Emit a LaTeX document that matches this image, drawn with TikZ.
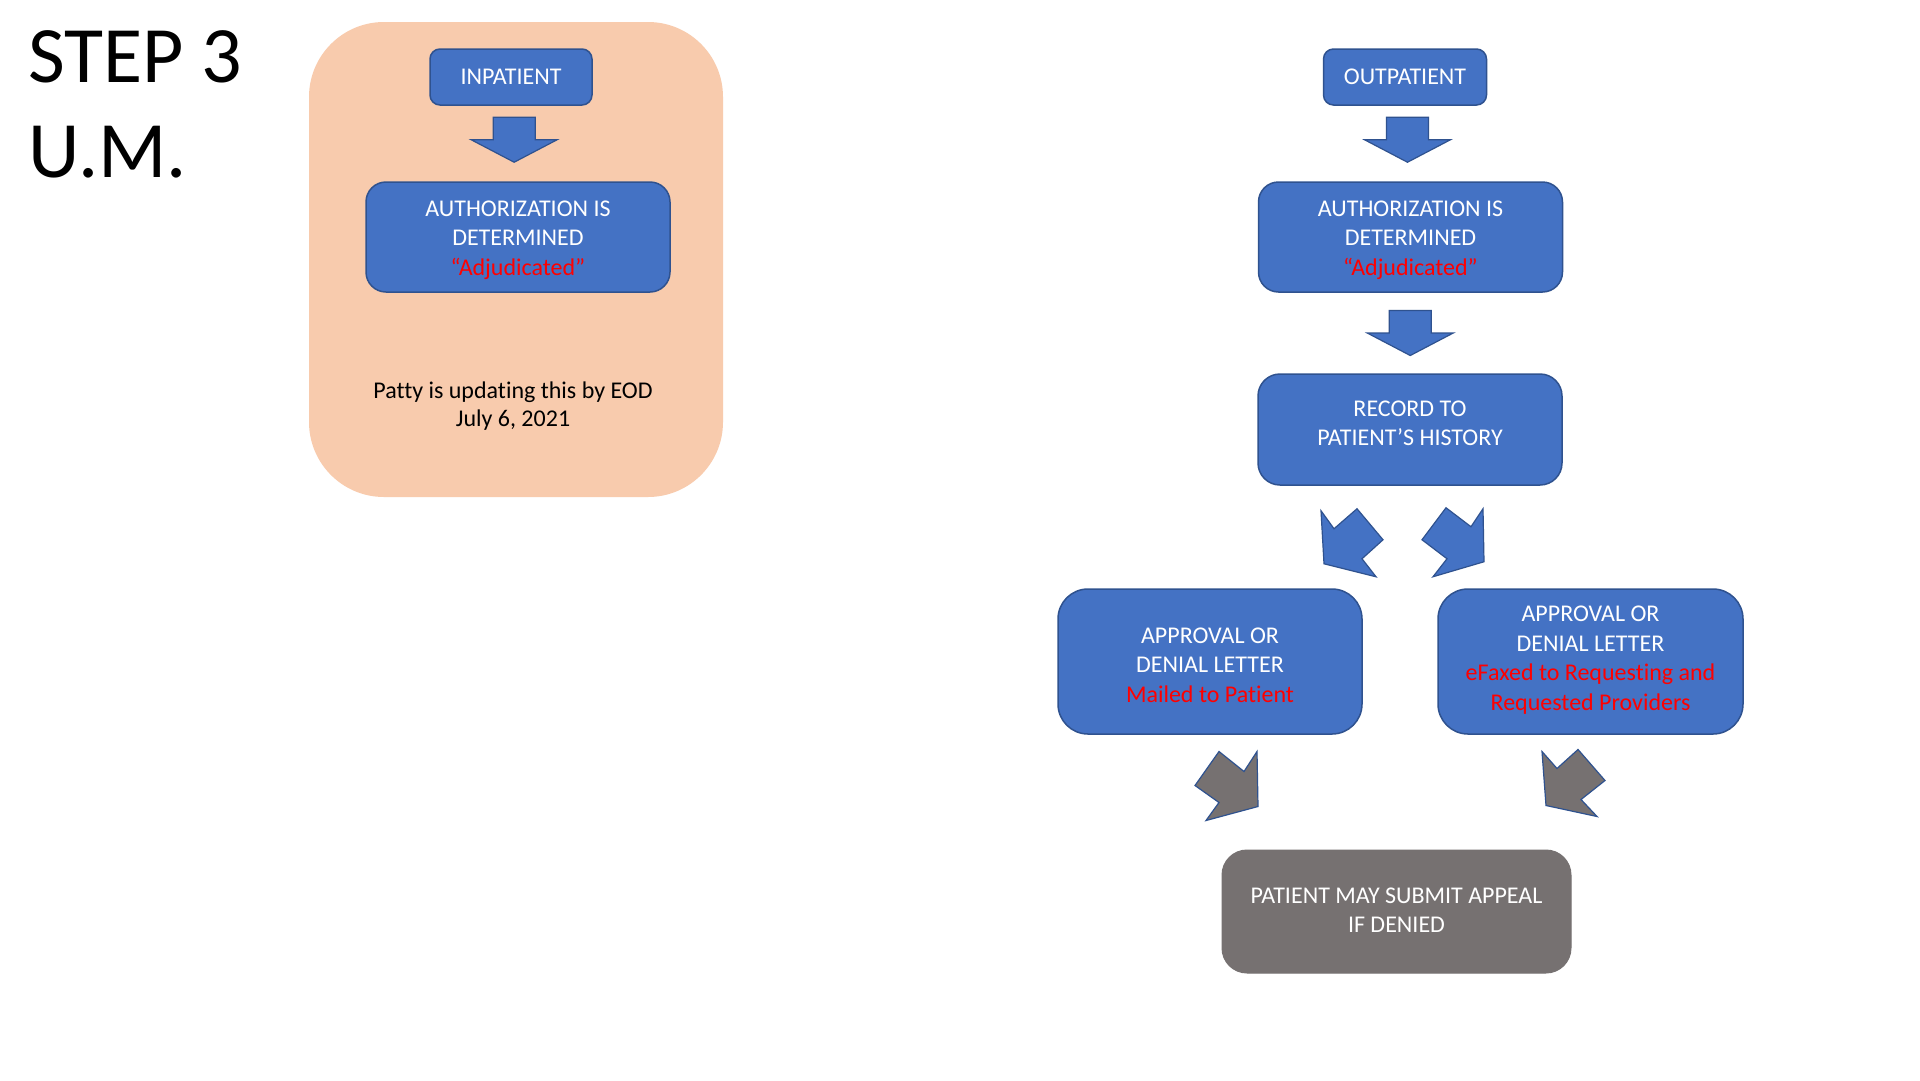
\documentclass[tikz,border=0pt]{standalone}
\usepackage{fontspec}
\setmainfont{Carlito}[Ligatures={TeX,NoCommon}]
\usetikzlibrary{calc}
\definecolor{boxblue}{HTML}{4472C4}
\definecolor{edgeblue}{HTML}{2F528F}
\definecolor{peach}{HTML}{F8CBAD}
\definecolor{slate}{HTML}{767171}
\definecolor{alertred}{HTML}{FF0000}
\tikzset{
  boxtext/.style={text=white, align=center, inner sep=0pt, font=\fontsize{24}{29.5}\selectfont},
  bluebox/.style={draw=edgeblue, line width=1.5pt, fill=boxblue, inner sep=0pt},
  graybox/.style={draw=slate, line width=1pt, fill=slate, inner sep=0pt},
  blockblue/.style={fill=boxblue, draw=edgeblue, line width=1.2pt, line join=miter},
  blockgray/.style={fill=slate, draw=edgeblue, line width=1.2pt, line join=miter},
  downblock/.pic={\draw[blockblue] (-21,-22.5) -- (21,-22.5) -- (21,0) -- (43,0) -- (0,22.5) -- (-43,0) -- (-21,0) -- cycle;}
}
\begin{document}
\begin{tikzpicture}[x=1pt,y=-1pt]
\useasboundingbox (0,0) rectangle (1920,1080);
\fill[white] (0,0) rectangle (1920,1080);

% title
\node[anchor=base west, inner sep=0pt, font=\fontsize{80}{95}\selectfont] (title1) at (28,82) {STEP 3};
\node[anchor=base west, inner sep=0pt, font=\fontsize{80}{95}\selectfont] (title2) at (28,177) {U.M.};

% inpatient panel
\node[fill=peach, rounded corners=75pt, minimum width=414pt, minimum height=475pt, inner sep=0pt] (holder) at (516,259.5) {};
\node[bluebox, rounded corners=10pt, minimum width=162pt, minimum height=56pt] (inpatient) at (511,77) {};
\node[boxtext] (inpatient-t) at (inpatient.center) {INPATIENT};
\node[bluebox, rounded corners=20pt, minimum width=304pt, minimum height=110pt] (inauth) at (518,237) {};
\node[boxtext, yshift=-3pt] (inauth-t) at (inauth.center)
  {AUTHORIZATION IS\\DETERMINED\\\textcolor{alertred}{“Adjudicated”}};
\pic at ($(inpatient.south)!0.45!(inauth.north)$) {downblock};
\node[align=center, inner sep=0pt, font=\fontsize{24}{28.5}\selectfont] (note) at (513,406)
  {Patty is updating this by EOD\\July 6, 2021};

% outpatient flow
\node[bluebox, rounded corners=10pt, minimum width=163pt, minimum height=56pt] (outpatient) at (1405,77) {};
\node[boxtext] (outpatient-t) at (outpatient.center) {OUTPATIENT};
\node[bluebox, rounded corners=20pt, minimum width=304pt, minimum height=110pt] (outauth) at (1410.5,237) {};
\node[boxtext, yshift=-3pt] (outauth-t) at (outauth.center)
  {AUTHORIZATION IS\\DETERMINED\\\textcolor{alertred}{“Adjudicated”}};
\pic at ($(outpatient.south)!0.45!(outauth.north)$) {downblock};
\node[bluebox, rounded corners=22pt, minimum width=304pt, minimum height=111pt] (record) at (1410,429.5) {};
\node[boxtext, yshift=6pt] (record-t) at (record.center) {RECORD TO\\PATIENT’S HISTORY};
\pic at ($(outauth.south)!0.5!(record.north)$) {downblock};

\node[bluebox, rounded corners=30pt, minimum width=304pt, minimum height=145pt] (mail) at (1210,661.5) {};
\node[boxtext, yshift=-3.5pt] (mail-t) at (mail.center)
  {APPROVAL OR\\DENIAL LETTER\\\textcolor{alertred}{Mailed to Patient}};
\node[bluebox, rounded corners=30pt, minimum width=305pt, minimum height=145pt] (fax) at (1590.5,661.5) {};
\node[boxtext, yshift=1.5pt] (fax-t) at (fax.center)
  {APPROVAL OR\\DENIAL LETTER\\\textcolor{alertred}{eFaxed to Requesting and}\\\textcolor{alertred}{Requested Providers}};
\node[graybox, rounded corners=25pt, minimum width=349pt, minimum height=123pt] (appeal) at (1396.5,911.5) {};
\node[boxtext, yshift=1.5pt] (appeal-t) at (appeal.center) {PATIENT MAY SUBMIT APPEAL\\IF DENIED};

% diagonal blue block arrows (record -> letters)
\begin{scope}[shift={($(record.south)+(-58,57)$)}]
  \draw[blockblue] (-31,-32) -- (-18,-14) -- (5,-34) -- (31,-3) -- (10,16) -- (24,34) -- (-28,21) -- cycle;
\end{scope}
\begin{scope}[shift={($(record.south)+(43,57)$)}]
  \draw[blockblue] (30,-34) -- (18,-16) -- (-7,-35) -- (-31,-3) -- (-6,16) -- (-20,34) -- (31,19) -- cycle;
\end{scope}

% gray block arrows (letters -> appeal)
\begin{scope}[shift={($(appeal.north)+(-170.5,-63)$)}]
  \draw[blockgray] (-7,-35) -- (18,-15) -- (31,-35) -- (32,20) -- (-20,34) -- (-7,16) -- (-31,-1) -- cycle;
\end{scope}
\begin{scope}[shift={($(appeal.north)+(176.5,-66)$)}]
  \draw[blockgray] (-31,-32) -- (-16,-15) -- (5,-34) -- (32,-3) -- (8,16) -- (24,33) -- (-27,22) -- cycle;
\end{scope}
\end{tikzpicture}
\end{document}
